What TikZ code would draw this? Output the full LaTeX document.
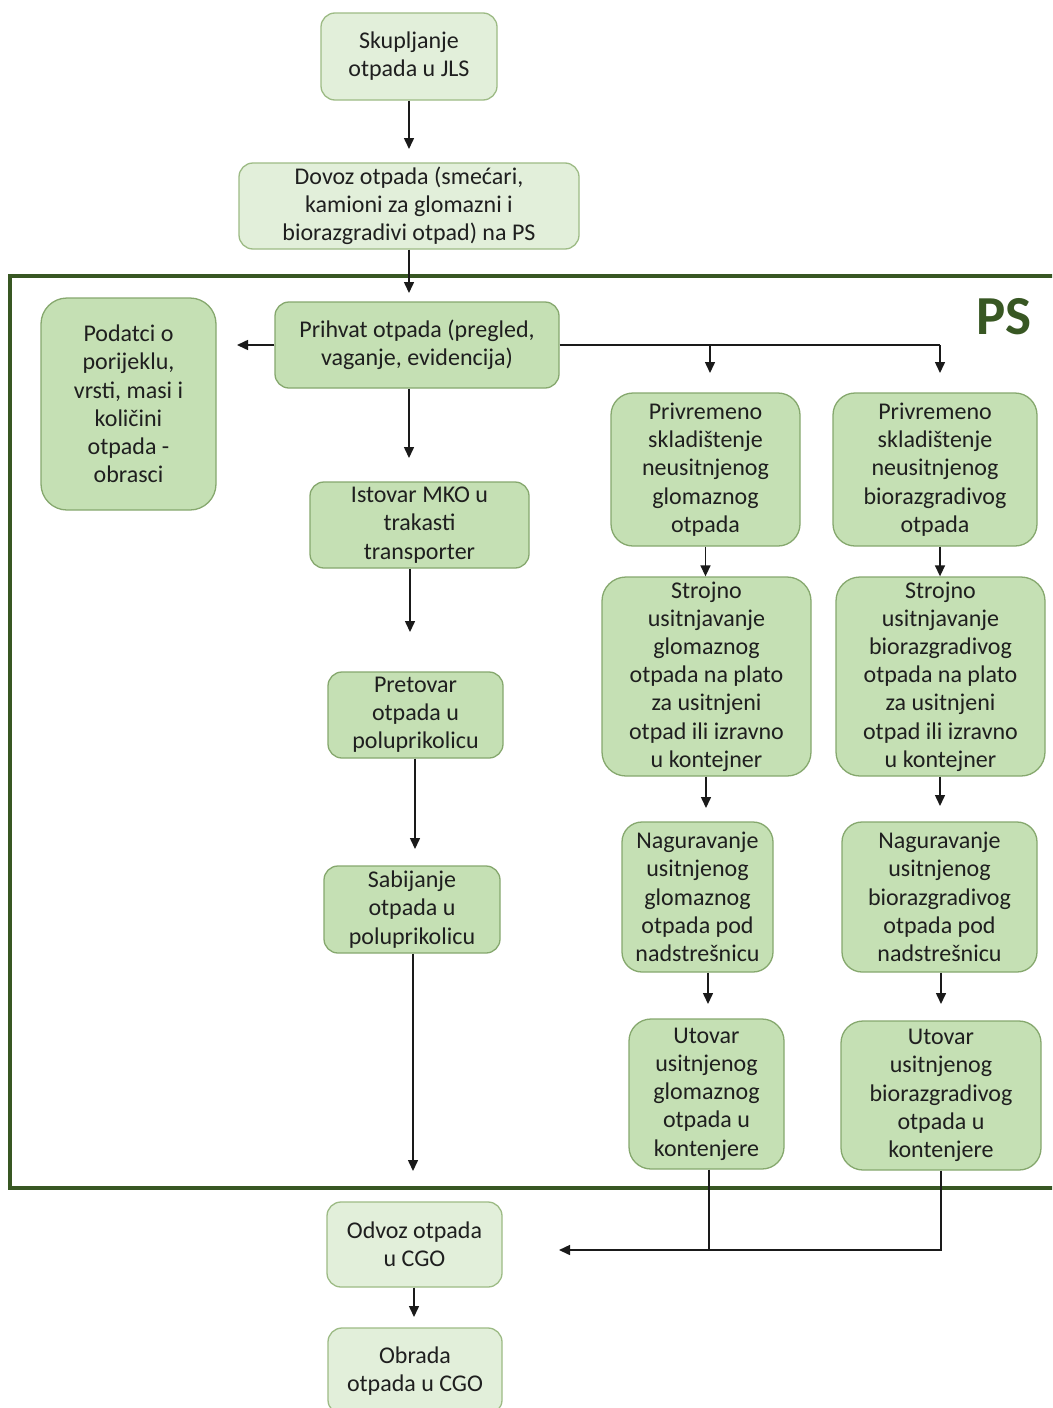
\documentclass[tikz,border=0pt]{standalone}
\usepackage{fontspec}
\setmainfont{Carlito}
\usetikzlibrary{arrows.meta}
\definecolor{infill}{HTML}{C5E0B4}
\definecolor{indraw}{HTML}{86A86E}
\definecolor{outfill}{HTML}{E2EFDA}
\definecolor{outdraw}{HTML}{9DBB85}
\definecolor{framecol}{HTML}{385723}
\definecolor{txt}{HTML}{1F1F1F}
\definecolor{linecol}{HTML}{1A1A1A}
\tikzset{
  basebox/.style={rounded corners=#1, line width=1.3pt, inner sep=0pt, align=center,
    text=txt, font=\fontsize{24}{28.2}\selectfont},
  inbox/.style={basebox=#1, fill=infill, draw=indraw},
  inbox/.default=14pt,
  outbox/.style={basebox=#1, fill=outfill, draw=outdraw},
  outbox/.default=14pt,
  arr/.style={draw=linecol, line width=1.5pt, -{Triangle[length=11pt,width=10pt]}},
  ln/.style={draw=linecol, line width=1.5pt},
  framel/.style={draw=framecol, line width=4pt}
}
\begin{document}
\begin{tikzpicture}[x=1pt,y=-1pt]
\useasboundingbox (0,0) rectangle (1052,1408);
\clip (0,0) rectangle (1052,1408);
\fill[white] (0,0) rectangle (1052,1408);

% frame
\draw[framel] (1070,276) -- (10,276) -- (10,1188) -- (1070,1188);
\node[text=framecol, font=\fontsize{55}{55}\bfseries\selectfont, anchor=center] (ps) at (1004,317) {PS};

% boxes outside
\node[outbox, minimum width=176pt, minimum height=87pt] (skup) at (409,56.5) {Skupljanje\\otpada u JLS};
\node[outbox, minimum width=340pt, minimum height=86pt] (dovoz) at (409,206) {Dovoz otpada (smećari,\\kamioni za glomazni i\\biorazgradivi otpad) na PS};
\node[outbox, minimum width=175pt, minimum height=85pt] (odvoz) at (414.5,1244.5) {Odvoz otpada\\u CGO};
\node[outbox, minimum width=174pt, minimum height=86pt] (obrada) at (415,1371) {Obrada\\otpada u CGO};

% boxes inside
\node[inbox, minimum width=284pt, minimum height=86pt] (prihvat) at (417,345) {Prihvat otpada (pregled,\\vaganje, evidencija)};
\node[inbox=26pt, minimum width=175pt, minimum height=212pt] (podatci) at (128.5,404) {Podatci o\\porijeklu,\\vrsti, masi i\\količini\\otpada -\\obrasci};
\node[inbox, minimum width=219pt, minimum height=86pt] (istovar) at (419.5,525) {Istovar MKO u\\trakasti\\transporter};
\node[inbox, minimum width=175pt, minimum height=86pt] (pretovar) at (415.5,715) {Pretovar\\otpada u\\poluprikolicu};
\node[inbox, minimum width=176pt, minimum height=87pt] (sabij) at (412,909.5) {Sabijanje\\otpada u\\poluprikolicu};

\node[inbox=22pt, minimum width=189pt, minimum height=153pt] (privG) at (705.5,469.5) {Privremeno\\skladištenje\\neusitnjenog\\glomaznog\\otpada};
\node[inbox=22pt, minimum width=204pt, minimum height=153pt] (privB) at (935,469.5) {Privremeno\\skladištenje\\neusitnjenog\\biorazgradivog\\otpada};
\node[inbox=24pt, minimum width=209pt, minimum height=199pt] (strG) at (706.5,676.5) {Strojno\\usitnjavanje\\glomaznog\\otpada na plato\\za usitnjeni\\otpad ili izravno\\u kontejner};
\node[inbox=24pt, minimum width=209pt, minimum height=199pt] (strB) at (940.5,676.5) {Strojno\\usitnjavanje\\biorazgradivog\\otpada na plato\\za usitnjeni\\otpad ili izravno\\u kontejner};
\node[inbox=20pt, minimum width=151pt, minimum height=150pt] (nagG) at (697.5,897) {Naguravanje\\usitnjenog\\glomaznog\\otpada pod\\nadstrešnicu};
\node[inbox=20pt, minimum width=195pt, minimum height=150pt] (nagB) at (939.5,897) {Naguravanje\\usitnjenog\\biorazgradivog\\otpada pod\\nadstrešnicu};
\node[inbox=22pt, minimum width=155pt, minimum height=150pt] (utG) at (706.5,1094) {Utovar\\usitnjenog\\glomaznog\\otpada u\\kontenjere};
\node[inbox=22pt, minimum width=200pt, minimum height=149pt] (utB) at (941,1095.5) {Utovar\\usitnjenog\\biorazgradivog\\otpada u\\kontenjere};

% free ends
\coordinate (e1) at (409,149);
\coordinate (e2) at (409,293);
\coordinate (e3) at (237,345);
\coordinate (b1) at (710,345);
\coordinate (b2) at (940,345);
\coordinate (e4) at (710,373);
\coordinate (e5) at (940,373);
\coordinate (e6) at (409,458);
\coordinate (e7) at (410,632);
\coordinate (e8) at (415,849);
\coordinate (e9) at (413,1171);
\coordinate (g1) at (706,808);
\coordinate (g2) at (940,806);
\coordinate (g3) at (708,1004);
\coordinate (g4) at (941,1004);
\coordinate (j1) at (709,1250);
\coordinate (j2) at (941,1250);
\coordinate (e10) at (559,1250);
\coordinate (e11) at (414,1317);

% connectors
\draw[arr] (skup.south -| e1) -- (e1);
\draw[arr] (dovoz.south -| e2) -- (e2);
\draw[arr] (prihvat.west) -- (e3);
\draw[ln] (prihvat.east) -- (b2);
\draw[arr] (b1) -- (e4);
\draw[arr] (b2) -- (e5);
\draw[arr] (prihvat.south -| e6) -- (e6);
\draw[arr] (istovar.south -| e7) -- (e7);
\draw[arr] (pretovar.south -| e8) -- (e8);
\draw[arr] (sabij.south -| e9) -- (e9);
\draw[arr] (privG.south) -- (strG.north -| privG.south);
\draw[arr] (privB.south -| g2) -- (strB.north -| g2);
\draw[arr] (strG.south -| g1) -- (g1);
\draw[arr] (strB.south -| g2) -- (g2);
\draw[arr] (nagG.south -| g3) -- (g3);
\draw[arr] (nagB.south -| g4) -- (g4);
\draw[ln] (utG.south -| j1) -- (j1);
\draw[arr] (utB.south -| j2) -- (j2) -- (e10);
\draw[arr] (odvoz.south -| e11) -- (e11);
\end{tikzpicture}
\end{document}
